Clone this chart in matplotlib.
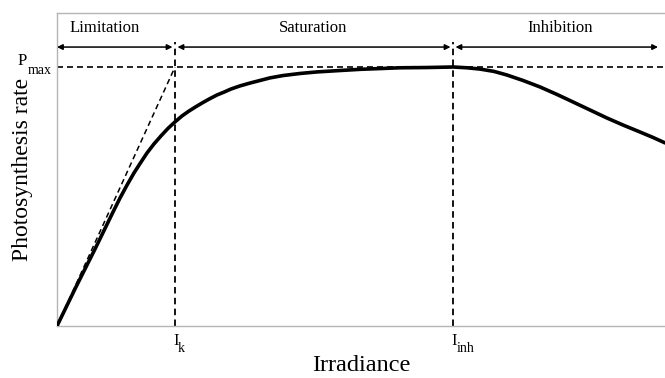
import matplotlib
matplotlib.use("Agg")
import matplotlib.pyplot as plt

# irradiance (arbitrary units, 0..608) and photosynthesis rate (% of Pmax)
irradiance = [0, 19, 38, 56, 63, 70, 77, 83, 90, 97, 104, 111, 118, 125, 132, 139, 146,
              153, 160, 167, 174, 183, 193, 203, 213, 226, 243, 260, 281, 303, 323, 343,
              370, 396, 410, 423, 437, 450, 466, 483, 500, 516, 533, 550, 566, 583,
              596, 608]
rate = [0, 15.1, 29.7, 44.0, 49.4, 54.4, 59.1, 62.7, 66.8, 70.3, 73.4, 76.3, 78.8, 81.1,
        83.0, 84.7, 86.3, 87.8, 89.2, 90.3, 91.5, 92.7, 93.8, 94.8, 95.8, 96.7, 97.5,
        98.1, 98.6, 99.1, 99.4, 99.7, 99.8, 100, 99.7, 99.2, 98.3, 96.9, 94.8, 92.3,
        89.4, 86.5, 83.4, 80.3, 77.6, 74.9, 72.8, 70.7]

p_max = 100
i_k = 118
i_inh = 396

regions = ["Limitation", "Saturation", "Inhibition"]
region_bounds = [(0, i_k), (i_k, i_inh), (i_inh, 601)]
region_label_x = [48, 256, 503]

plt.rcParams['font.family'] = ['Liberation Serif', 'DejaVu Serif']

fig = plt.figure(figsize=(6.65, 3.78), dpi=100)
ax = fig.add_axes([57 / 665, 1 - 326 / 378, 1 - 57 / 665, (326 - 13) / 378])

ax.set_xlim(0, 608)
ax.set_ylim(0, 120.85)

# response curve
ax.plot(irradiance, rate, color='black', lw=2.6, solid_capstyle='round',
        solid_joinstyle='round', zorder=3)

# guide lines
dash = (0, (3.6, 2.4))
ax.axhline(p_max, color='black', lw=1.2, linestyle=dash)
ax.plot([0, i_k], [0, p_max], color='black', lw=1.1, linestyle=dash)
arrow_y = 107.7
for x in (i_k, i_inh):
    ax.plot([x, x], [0, 109.7], color='black', lw=1.3, linestyle=dash)

# region arrows and labels
gap = 2.5
for name, (x0, x1), lx in zip(regions, region_bounds, region_label_x):
    a = x0 + gap if x0 > 0 else x0
    b = x1 - gap if x1 < 600 else x1
    ax.annotate('', xy=(b, arrow_y), xytext=(a, arrow_y),
                arrowprops=dict(arrowstyle='<|-|>', color='black', lw=1.1,
                                mutation_scale=8, shrinkA=0, shrinkB=0))
    ax.text(lx, 115.1, name, ha='center', va='center', fontsize=12)

# marker labels with subscripts
ax.set_xticks([])
ax.set_yticks([])
ax.text(-30, 100.8, 'P', ha='right', va='baseline', fontsize=12, clip_on=False)
ax.text(-29, 97.3, 'max', ha='left', va='baseline', fontsize=10, clip_on=False)
ax.text(116.5, -7.3, 'I', ha='left', va='baseline', fontsize=12, clip_on=False)
ax.text(121, -10.0, 'k', ha='left', va='baseline', fontsize=10, clip_on=False)
ax.text(394.5, -7.3, 'I', ha='left', va='baseline', fontsize=12, clip_on=False)
ax.text(400, -10.0, 'inh', ha='left', va='baseline', fontsize=10, clip_on=False)

ax.set_xlabel('Irradiance', fontsize=17.5, labelpad=21)
ax.set_ylabel('Photosynthesis rate', fontsize=17, labelpad=17)

for side in ('left', 'bottom', 'top'):
    ax.spines[side].set_color('#b5b5b5')
    ax.spines[side].set_linewidth(1.0)
ax.spines['right'].set_visible(False)

fig.savefig('out.png', dpi=100)
